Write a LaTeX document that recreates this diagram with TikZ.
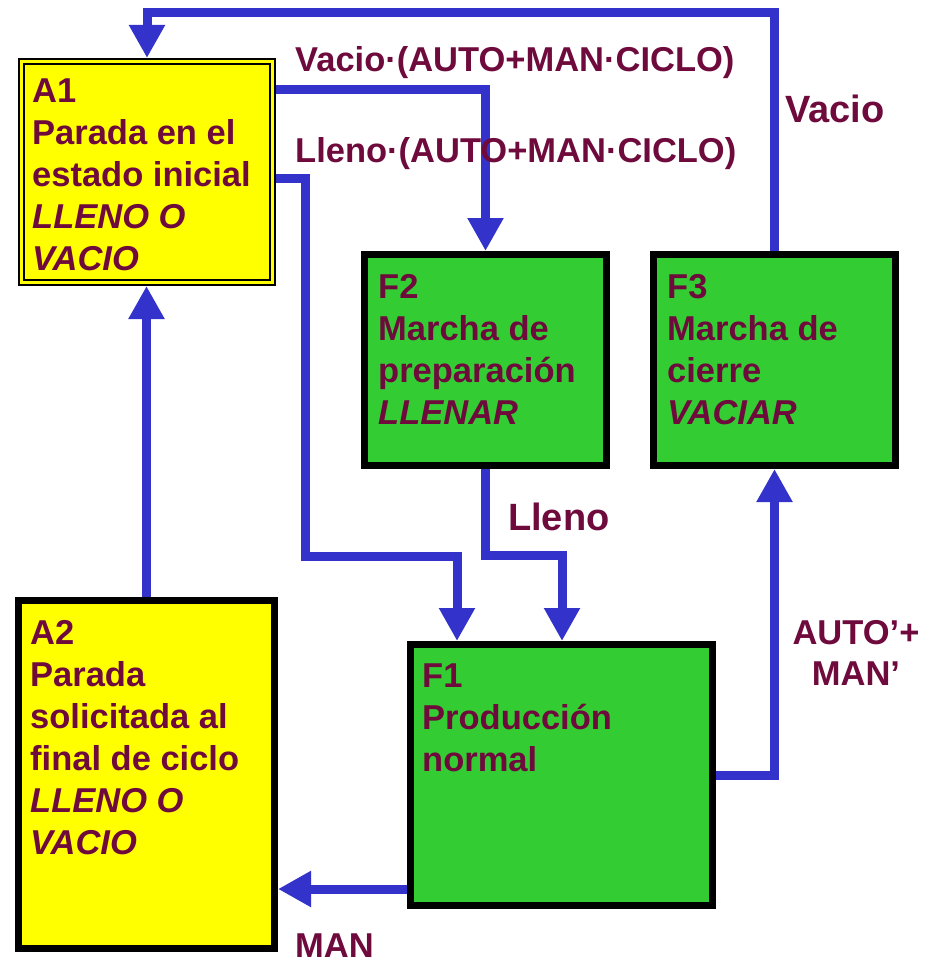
\documentclass[tikz,border=0pt]{standalone}
\usepackage{fontspec}
\setmainfont{Liberation Sans}
\usetikzlibrary{arrows.meta}
\definecolor{lblue}{RGB}{51,51,204}
\definecolor{lgreen}{RGB}{51,204,51}
\definecolor{lyellow}{RGB}{255,255,0}
\definecolor{txt}{RGB}{110,10,60}
\begin{document}
\begin{tikzpicture}[x=1pt,y=-1pt,
  box/.style={draw=black, line width=7pt, inner sep=0pt, outer sep=3.5pt},
  gbox/.style={box, fill=lgreen},
  ybox/.style={box, fill=lyellow},
  dbox/.style={draw=black, fill=lyellow, line width=2pt, double=lyellow, double distance=3pt, inner sep=0pt, outer sep=3.5pt},
  boxtext/.style={anchor=north west, inner sep=0pt, align=left, text=txt, font=\fontsize{34.5}{42}\selectfont\bfseries},
  lbl/.style={anchor=base west, inner sep=0pt, text=txt, font=\fontsize{34.5}{41}\selectfont\bfseries},
  biglbl/.style={lbl, font=\fontsize{38}{44}\selectfont\bfseries},
  arr/.style={draw=lblue, line width=9pt, -{Triangle[width=34pt,length=33pt]}},
]
\useasboundingbox (0,0) rectangle (932,963);
% boxes
\node[dbox, minimum width=251pt, minimum height=221pt] (a1) at (147,172) {};
\node[ybox, minimum width=256pt, minimum height=348pt] (a2) at (146.5,774.5) {};
\node[gbox, minimum width=242pt, minimum height=211pt] (f2) at (485.5,360) {};
\node[gbox, minimum width=242pt, minimum height=211pt] (f3) at (774.5,360) {};
\node[gbox, minimum width=302pt, minimum height=261pt] (f1) at (561.5,775) {};
% box texts
\node[boxtext] (a1t) at (32,78.5) {A1\\Parada en el\\estado inicial\\\textit{LLENO O}\\\textit{VACIO}};
\node[boxtext] (a2t) at (30,620.5) {A2\\Parada\\solicitada al\\final de ciclo\\\textit{LLENO O}\\\textit{VACIO}};
\node[boxtext] (f2t) at (378,274.5) {F2\\Marcha de\\preparación\\\textit{LLENAR}};
\node[boxtext] (f3t) at (667,274.5) {F3\\Marcha de\\cierre\\\textit{VACIAR}};
\node[boxtext] (f1t) at (422,663.5) {F1\\Producción\\normal};
% helper coordinates
\coordinate (t1) at (0,13);
\coordinate (c2) at (0,90);
\coordinate (c3) at (0,178);
\coordinate (c3b) at (305,556);
\coordinate (c3c) at (457,0);
\coordinate (c4) at (562,555);
\coordinate (c5) at (0,775);
\coordinate (c6) at (0,889);
% connectors
\draw[arr] (f3.north) -- (f3.north |- t1) -| (a1.north);
\draw[arr] (a1.east |- c2) -| (f2.north);
\draw[arr] (a1.east |- c3) -| (c3b) -| (c3c |- f1.north);
\draw[arr] (f2.south) |- (c4) -- (c4 |- f1.north);
\draw[arr] (f1.east |- c5) -| (f3.south);
\draw[arr] (f1.west |- c6) -- (a2.east |- c6);
\draw[arr] (a2.north) -- (a2.north |- a1.south);
% labels
\node[lbl] (l1) at (295,72) {Vacio·(AUTO+MAN·CICLO)};
\node[lbl] (l2) at (295,162) {Lleno·(AUTO+MAN·CICLO)};
\node[biglbl] (l3) at (785,122) {Vacio};
\node[biglbl] (l4) at (508,530) {Lleno};
\node[lbl, anchor=north, align=center] (l5) at (856,620) {AUTO’+\\MAN’};
\node[lbl] (l6) at (295,957) {MAN};
\end{tikzpicture}
\end{document}
